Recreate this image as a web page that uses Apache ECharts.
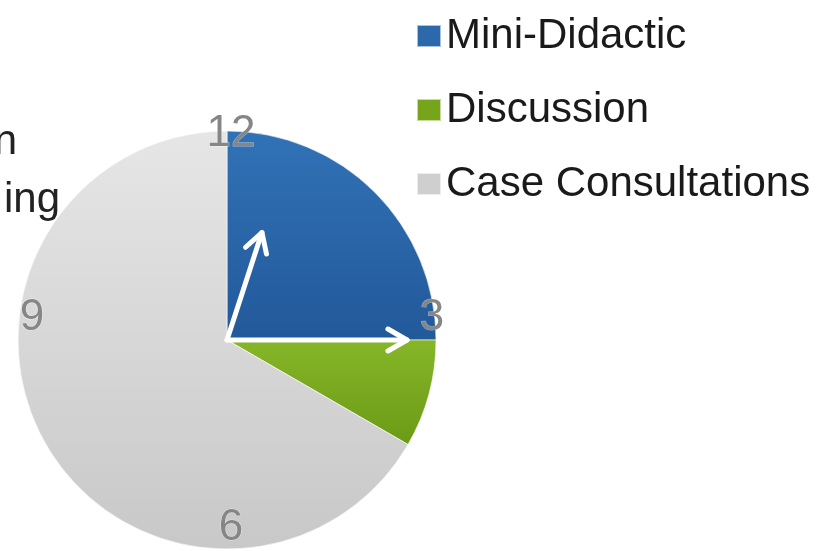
<!DOCTYPE html>
<html>
<head>
<meta charset="utf-8">
<script src="https://cdn.jsdelivr.net/npm/echarts@6/dist/echarts.min.js"></script>
<style>
  html, body { margin: 0; padding: 0; background: #fff; }
  #chart { width: 821px; height: 551px; }
</style>
</head>
<body>
<div id="chart"></div>
<script>
var categories = ['Mini-Didactic', 'Discussion', 'Case Consultations'];
var hours = [3, 1, 8];            // slices read as clock hours
var clockLabels = ['12', '3', '6', '9'];
var cutText = ['n', 'ing'];       // text clipped at the left edge

var cx = 227, cy = 340, r = 209;
var font = '"Liberation Sans", Arial, sans-serif';

var colors = [
    new echarts.graphic.LinearGradient(0, 0, 0, 1, [
        { offset: 0, color: '#3172b6' }, { offset: 1, color: '#22599a' }
    ]),
    new echarts.graphic.LinearGradient(0, 0, 0, 1, [
        { offset: 0, color: '#86b628' }, { offset: 1, color: '#6b9a16' }
    ]),
    new echarts.graphic.LinearGradient(0, 0, 0, 1, [
        { offset: 0, color: '#e6e6e6' }, { offset: 1, color: '#c8c8c8' }
    ])
];
var iconColors = ['#2d68aa', '#76a51c', '#cfcfcf'];

// clock numerals sit just inside the rim
var numPos = [
    [cx + 4, cy - 206],
    [cx + 205, cy - 22],
    [cx + 4, cy + 188],
    [cx - 195, cy - 22]
];

function hand(len, angleDeg) {
    var a = angleDeg * Math.PI / 180;
    var tx = cx + len * Math.cos(a), ty = cy - len * Math.sin(a);
    var head = 22, spread = 30 * Math.PI / 180;
    var l = [tx - head * Math.cos(a - spread), ty + head * Math.sin(a - spread)];
    var rr = [tx - head * Math.cos(a + spread), ty + head * Math.sin(a + spread)];
    var style = { stroke: '#fff', lineWidth: 5, lineCap: 'round', lineJoin: 'round', fill: null };
    return [
        { type: 'polyline', z: 100, shape: { points: [[cx, cy], [tx, ty]] }, style: style },
        { type: 'polyline', z: 100, shape: { points: [l, [tx, ty], rr] }, style: style }
    ];
}

var graphics = [];
clockLabels.forEach(function(t, i) {
    graphics.push({
        type: 'text', z: 90, x: numPos[i][0], y: numPos[i][1],
        style: {
            text: t, font: '44px ' + font, fill: '#868686',
            align: 'center', verticalAlign: 'middle',
            stroke: 'rgba(255,255,255,0.5)', lineWidth: 1
        }
    });
});
graphics.push({ type: 'text', x: 17, y: 142, style: { text: cutText[0], font: '42px ' + font, fill: '#222', align: 'right', verticalAlign: 'middle' } });
graphics.push({ type: 'text', x: 60, y: 200, style: { text: cutText[1], font: '42px ' + font, fill: '#222', align: 'right', verticalAlign: 'middle' } });
graphics = graphics.concat(hand(113, 72), hand(180, 0));

var option = {
    animation: false,
    color: iconColors,
    legend: {
        orient: 'vertical',
        left: 411,
        top: 10,
        icon: 'rect',
        itemWidth: 24,
        itemHeight: 22,
        itemGap: 32,
        textStyle: { fontFamily: font, fontSize: 42, color: '#1a1a1a', padding: [0, 0, 0, 0] },
        data: categories.map(function(c, i) {
            return { name: c, itemStyle: { color: iconColors[i] } };
        })
    },
    series: [{
        type: 'pie',
        center: [cx, cy],
        radius: [0, r],
        startAngle: 90,
        clockwise: true,
        label: { show: false },
        labelLine: { show: false },
        emphasis: { disabled: true },
        itemStyle: { borderColor: 'rgba(255,255,255,0.6)', borderWidth: 1 },
        data: categories.map(function(c, i) {
            return { name: c, value: hours[i], itemStyle: { color: colors[i] } };
        })
    }],
    graphic: graphics
};

var myChart = echarts.init(document.getElementById('chart'));
myChart.setOption(option);
</script>
</body>
</html>
